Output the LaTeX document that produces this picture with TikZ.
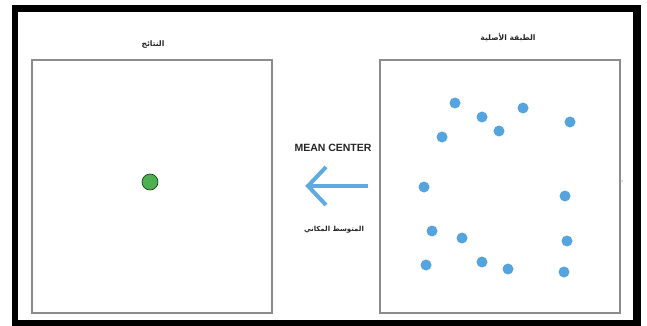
\documentclass[tikz,border=0pt]{standalone}
\usepackage{fontspec}
\setmainfont{Liberation Sans}
\newfontfamily\arabicfont[Script=Arabic]{DejaVu Sans}
\TeXXeTstate=1
\definecolor{dotblue}{RGB}{86,164,222}
\definecolor{arrowblue}{RGB}{95,170,224}
\definecolor{dotgreen}{RGB}{76,175,80}
\definecolor{boxgray}{RGB}{140,140,140}
\begin{document}
\begin{tikzpicture}[x=1pt,y=-1pt,
  panel/.style={draw=boxgray,line width=1.4pt},
  bdot/.style={circle,fill=dotblue,inner sep=0pt,minimum size=11pt},
  gdot/.style={circle,fill=dotgreen,draw=black!70!dotgreen,line width=0.6pt,inner sep=0pt,minimum size=16pt},
  artitle/.style={font=\arabicfont\bfseries\fontsize{7.6}{9}\selectfont,text=black!85},
  arrowline/.style={draw=arrowblue,line width=4pt}]
\useasboundingbox (0,0) rectangle (647,326);
\fill[white] (0,0) rectangle (647,326);
\fill[black] (12,5) rectangle (641,326);
\fill[white] (18,12) rectangle (633,320);
% panels
\node[panel,minimum width=240pt,minimum height=253pt,inner sep=0pt] (result) at (152,186.5) {};
\node[panel,minimum width=240pt,minimum height=253pt,inner sep=0pt] (orig) at (500,186.5) {};
% titles
\node[artitle] (t1) at (153,45) {\beginR النتائج\endR};
\node[artitle] (t2) at (508,38) {\beginR الطبقة الأصلية\endR};
% green mean center
\node[gdot] (mc) at (150,182) {};
% blue points
\foreach \x/\y [count=\i] in {455/103,482/117,523/108,570/122,499/131,442/137,424/187,565/196,432/231,462/238,567/241,426/265,482/262,508/269,564/272}
  \node[bdot] (p\i) at (\x,\y) {};
% tiny mark
\node[circle,fill=black!40,inner sep=0pt,minimum size=1.5pt] (mark) at (622,181) {};
% labels
\node[font=\bfseries\fontsize{10.5}{12}\selectfont,text=black!85] (mean) at (333,148) {MEAN CENTER};
\node[artitle,font=\arabicfont\bfseries\fontsize{7}{8}\selectfont] (ar) at (334,230) {\beginR المتوسط المكاني\endR};
% arrow
\coordinate (a1) at (368,186);
\coordinate (a2) at (308,186);
\coordinate (a3) at (326,167);
\coordinate (a4) at (326,205);
\draw[arrowline] (a1) -- (a2);
\draw[arrowline,line join=miter] (a3) -- (a2) -- (a4);
\end{tikzpicture}
\end{document}
